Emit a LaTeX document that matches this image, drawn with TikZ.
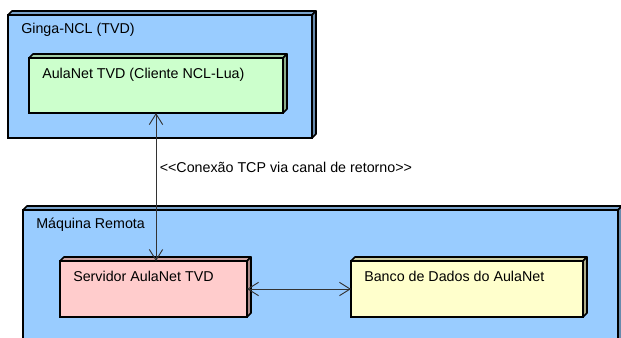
\documentclass[tikz,border=0pt]{standalone}
\usepackage{fontspec}
\setmainfont{Liberation Sans}
\usetikzlibrary{arrows.meta,calc,positioning}
\definecolor{nodeblue}{HTML}{99CCFF}
\definecolor{nodegreen}{HTML}{CCFFCC}
\definecolor{nodepink}{HTML}{FFCCCC}
\definecolor{nodeyellow}{HTML}{FFFFCC}
\definecolor{wire}{HTML}{333333}

\begin{document}
\begin{tikzpicture}[x=0.75pt,y=-0.75pt,
  every node/.style={font=\fontsize{10.7pt}{12.8pt}\selectfont},
  deploy/.style={draw=black,line width=1.2pt,anchor=north west,inner sep=0pt,outer sep=0pt},
  face/.style={draw=black,line width=1.2pt,line join=round},
  title/.style={anchor=west,xshift=9.75pt,yshift=-11.25pt,inner sep=0pt},
  conn/.style={draw=wire,line width=0.7pt,{Straight Barb[length=8pt,width=10pt]}-{Straight Barb[length=8pt,width=10pt]}}]
\useasboundingbox (0,0) rectangle (621,337);
\clip (0,0) rectangle (621,337);
% outer nodes
\node[deploy,fill=nodeblue,minimum width=228pt,minimum height=92.25pt,
  label={[title]north west:Ginga-NCL (TVD)}] (ginga) at (8,15) {};
\node[deploy,fill=nodeblue,minimum width=446.25pt,minimum height=101.25pt,
  label={[title]north west:Máquina Remota}] (remota) at (23,210) {};
% inner nodes
\node[deploy,fill=nodegreen,minimum width=190.5pt,minimum height=41.25pt,
  label={[title,yshift=-1.5pt]north west:AulaNet TVD (Cliente NCL-Lua)}] (cliente) at (29,58) {};
\node[deploy,fill=nodepink,minimum width=140.25pt,minimum height=42pt,
  label={[title]north west:Servidor AulaNet TVD}] (servidor) at (60,261) {};
\node[deploy,fill=nodeyellow,minimum width=174pt,minimum height=42pt,
  label={[title]north west:Banco de Dados do AulaNet}] (banco) at (351,261) {};
% 3d faces
\foreach \n/\c in {ginga/nodeblue,remota/nodeblue,cliente/nodegreen,servidor/nodepink,banco/nodeyellow}{
\filldraw[face,fill=\c!80!black] (\n.north west) -- ++(3pt,3pt) -- ($(\n.north east)+(3pt,3pt)$) -- (\n.north east) -- cycle;
\filldraw[face,fill=\c!68!black] (\n.north east) -- ++(3pt,3pt) -- ($(\n.south east)+(3pt,3pt)$) -- (\n.south east) -- cycle;}
% connections
\draw[conn] (cliente.south) -- (cliente.south |- servidor.north)
  node[pos=0.37,right=2.5pt,inner sep=0pt] (tcp) {{<}{<}Conexão TCP via canal de retorno{>}{>}};
\draw[conn] (servidor) -- (banco);
\end{tikzpicture}
\end{document}
